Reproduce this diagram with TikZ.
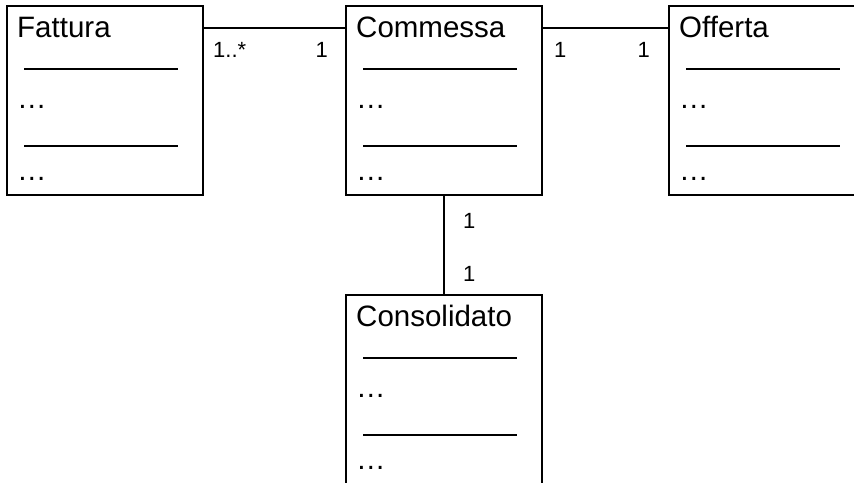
\documentclass[tikz,border=0pt]{standalone}
\usepackage{fontspec}
\setmainfont{Liberation Sans}
\usetikzlibrary{calc}
\begin{document}
\begin{tikzpicture}[x=1pt,y=-1pt,
  classbox/.style={draw, line width=1.6pt, minimum width=196pt, minimum height=189pt,
    inner sep=0pt, outer sep=0pt, anchor=north west},
  classname/.style={anchor=base west, inner sep=0pt, font=\fontsize{29.5}{32}\selectfont},
  member/.style={anchor=base west, inner sep=0pt, font=\fontsize{29.5}{32}\selectfont},
  rule/.style={line width=1.6pt},
  link/.style={line width=1.6pt},
  mult/.style={inner sep=0pt, font=\fontsize{22}{24}\selectfont}]
\clip (0,0) rectangle (854,482);
\fill[white] (0,0) rectangle (854,482);
% class boxes: name, two separators, attribute and operation placeholders
\foreach \id/\name/\x/\y in {fat/Fattura/7/6, com/Commessa/346/6, off/Offerta/669/6, con/Consolidato/346/295} {
  \node[classbox] (\id) at (\x,\y) {};
  \node[classname] (\id-name) at ($(\id.north west)+(10,31)$) {\name};
  \draw[rule] ($(\id.north west)+(17,63)$) -- ++(154,0);
  \node[member] (\id-attr) at ($(\id.north west)+(10,102)$) {…};
  \draw[rule] ($(\id.north west)+(17,140)$) -- ++(154,0);
  \node[member] (\id-ops) at ($(\id.north west)+(10,174)$) {…};
}
% associations
\draw[link] ($(fat.north east)+(0,22)$) -- ($(com.north west)+(0,22)$);
\draw[link] ($(com.north east)+(0,22)$) -- ($(off.north west)+(0,22)$);
\draw[link] (com.south) -- (con.north);
% multiplicities
\node[mult, anchor=base west] (m1) at ($(fat.north east)+(10,51)$) {1..*};
\node[mult, anchor=base east] (m2) at ($(com.north west)+(-18,51)$) {1};
\node[mult, anchor=base west] (m3) at ($(com.north east)+(12,51)$) {1};
\node[mult, anchor=base east] (m4) at ($(off.north west)+(-19,51)$) {1};
\node[mult, anchor=base west] (m5) at ($(com.south)+(19,33)$) {1};
\node[mult, anchor=base west] (m6) at ($(con.north)+(19,-14)$) {1};
\end{tikzpicture}
\end{document}
